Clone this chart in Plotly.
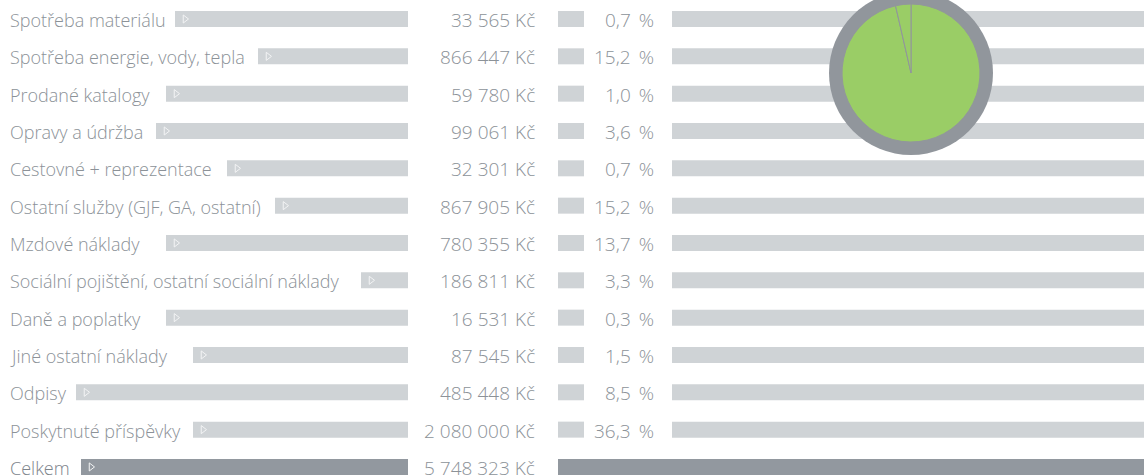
import plotly.graph_objects as go

# ---- data ----
labels = [
    "Spotřeba materiálu",
    "Spotřeba energie, vody, tepla",
    "Prodané katalogy",
    "Opravy a údržba",
    "Cestovné + reprezentace",
    "Ostatní služby (GJF, GA, ostatní)",
    "Mzdové náklady",
    "Sociální pojištění, ostatní sociální náklady",
    "Daně a poplatky",
    "Jiné ostatní náklady",
    "Odpisy",
    "Poskytnuté příspěvky",
]
amounts = [33565, 866447, 59780, 99061, 32301, 867905, 780355, 186811, 16531, 87545, 485448, 2080000]
shares = [0.7, 15.2, 1.0, 3.6, 0.7, 15.2, 13.7, 3.3, 0.3, 1.5, 8.5, 36.3]
total_label = "Celkem"
total_amount = 5748323
pie_item = "Opravy a údržba"
pie_rest_label = "Ostatní"

# ---- style / layout (pixel positions of the decorative row strips) ----
W, H = 1144, 476
label_bar_start = [175, 258, 166, 156, 227, 275, 166, 361, 166, 193, 76, 193, 81]
LIGHT = "#cfd3d6"
DARK = "#92989f"
RING = "#91969c"
TEXT = "#8c9298"
TEXT_DARK = "#7d848b"
GREEN = "#9acd66"
ARROW = "#f3f4f5"
FONT = "Open Sans"
FS = 18
FS_NUM = 19
NB = "\u00a0"
YSHIFT = -1

rows = labels + [total_label]
n = len(rows)
pitch = 37.33
first = 19.0
y_top = -first / pitch
y_bot = (H - first) / pitch
bar_w = 16 / pitch


def fmt_amount(v):
    return f"{v:,}".replace(",", " ") + " Kč"


def fmt_share(v):
    return f"{v:.1f}".replace(".", ",") + NB + "\u2009%"


fig = go.Figure()

# label column bars
fig.add_trace(go.Bar(
    orientation="h", y=rows, base=label_bar_start,
    x=[408 - s for s in label_bar_start], width=bar_w,
    marker=dict(color=[LIGHT] * len(labels) + [DARK], line_width=0),
    hoverinfo="skip", showlegend=False,
))
# share boxes + total bar
fig.add_trace(go.Bar(
    orientation="h", y=rows, base=[558] * n, x=[26] * len(labels) + [W - 558], width=bar_w,
    marker=dict(color=[LIGHT] * len(labels) + [DARK], line_width=0),
    hoverinfo="skip", showlegend=False,
))
# right bars
fig.add_trace(go.Bar(
    orientation="h", y=labels, base=[672] * len(labels), x=[W - 672] * len(labels), width=bar_w,
    marker=dict(color=LIGHT, line_width=0),
    hoverinfo="skip", showlegend=False,
))
# arrows on label bars
fig.add_trace(go.Scatter(
    x=[s + 10 for s in label_bar_start], y=rows, mode="markers",
    marker=dict(symbol="triangle-right-open", size=7, color=ARROW,
                line=dict(color=ARROW, width=1)),
    hoverinfo="skip", showlegend=False,
))
# ring behind pie
fig.add_trace(go.Scatter(
    x=[911], y=[73], yaxis="y2", mode="markers",
    marker=dict(size=164, color=RING, line_width=0),
    cliponaxis=False, hoverinfo="skip", showlegend=False,
))
# pie
ps = shares[labels.index(pie_item)]
fig.add_trace(go.Pie(
    values=[100 - ps, ps], labels=[pie_rest_label, pie_item],
    domain=dict(x=[842 / W, 980 / W], y=[1 - 142 / H, 1 - 4 / H]),
    sort=False, direction="clockwise", rotation=0,
    marker=dict(colors=[GREEN, GREEN], line=dict(color=RING, width=1)),
    textinfo="none", hoverinfo="skip", showlegend=False,
))

# texts
all_amounts = amounts + [total_amount]
for i, r in enumerate(rows):
    col = TEXT_DARK if r == total_label else TEXT
    fig.add_annotation(
        x=9, y=r, xref="x", yref="y", xanchor="left", yanchor="middle",
        text=r, showarrow=False, borderpad=0, yshift=YSHIFT,
        font=dict(family=FONT, size=FS, color=col, weight=300),
    )
    fig.add_annotation(
        x=536, y=r, xref="x", yref="y", xanchor="right", yanchor="middle",
        text=fmt_amount(all_amounts[i]), showarrow=False, borderpad=0, yshift=YSHIFT,
        font=dict(family=FONT, size=FS_NUM, color=TEXT, weight=300),
    )
for r, s in zip(labels, shares):
    fig.add_annotation(
        x=655, y=r, xref="x", yref="y", xanchor="right", yanchor="middle",
        text=fmt_share(s), showarrow=False, borderpad=0, yshift=YSHIFT,
        font=dict(family=FONT, size=FS_NUM, color=TEXT, weight=300),
    )

fig.update_layout(
    width=W, height=H,
    margin=dict(l=0, r=0, t=0, b=0),
    paper_bgcolor="white", plot_bgcolor="white",
    barmode="overlay", hovermode=False,
    xaxis=dict(range=[0, W], visible=False, fixedrange=True),
    yaxis=dict(type="category", categoryorder="array", categoryarray=rows,
               range=[y_bot, y_top], visible=False, fixedrange=True),
    yaxis2=dict(overlaying="y", range=[H, 0], visible=False, fixedrange=True),
)

fig.write_html(
    "out.html",
    config={"displayModeBar": False},
    post_script="document.body.style.margin='0';document.body.style.overflow='hidden';",
)
